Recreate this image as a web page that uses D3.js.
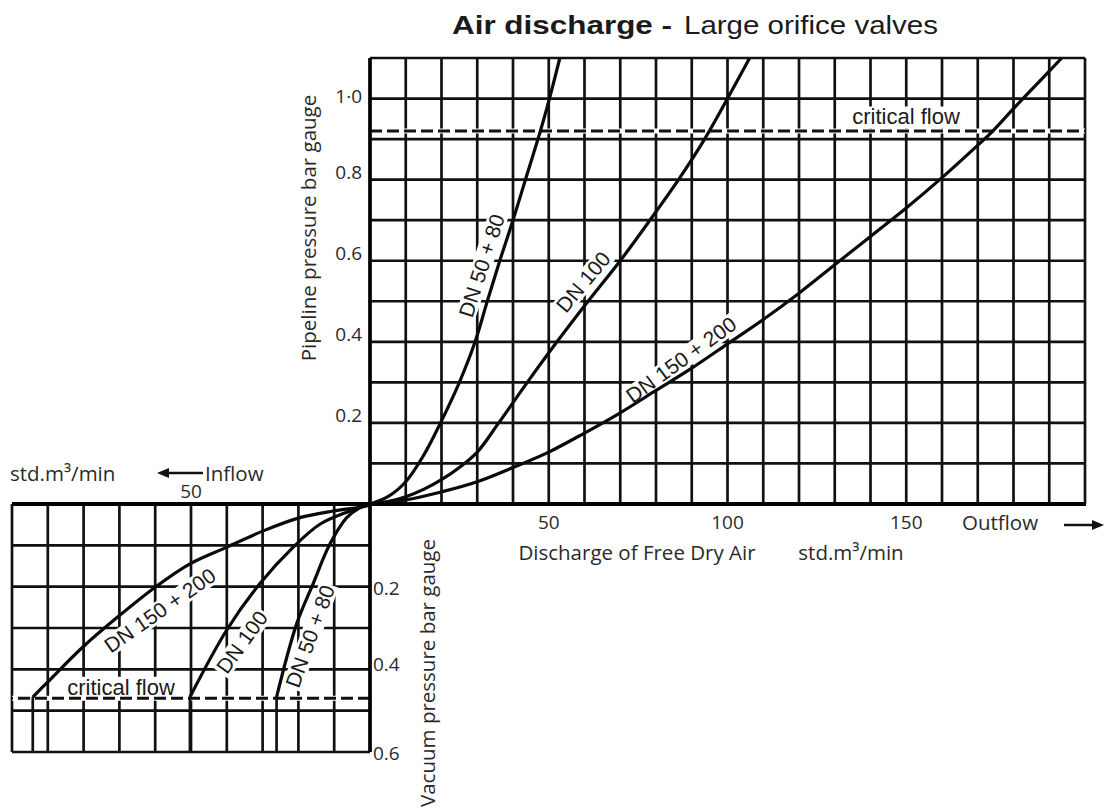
<!DOCTYPE html>
<html>
<head>
<meta charset="utf-8">
<script src="https://cdn.jsdelivr.net/npm/d3@7"></script>
<style>
  body { margin: 0; background: #fff; }
  svg { display: block; }
  .ax { font-family: "Open Sans", "DejaVu Sans", sans-serif; fill: #2a2a2a; }
  .lab { font-family: "Liberation Sans", Arial, sans-serif; fill: #1a1a1a; }
</style>
</head>
<body>
<div id="chart"></div>
<script>
// escalas de los ejes
const outflowTicks = [50, 100, 150];
const pressureTicks = [0.2, 0.4, 0.6, 0.8, 1.0];
const pressureTickText = ["0.2", "0.4", "0.6", "0.8", "1·0"];
const vacuumTicks = [0.2, 0.4, 0.6];
const criticalPressure = 0.92;
const criticalVacuum = 0.47;

// curvas de descarga (std.m3/min, bar)
const outDN50 = [[0,0],[5,0.018],[10,0.055],[15,0.12],[20,0.205],[25,0.3],[29.4,0.4],[32.8,0.5],[36.3,0.6],[40,0.7],[44,0.815],[47.6,0.918],[50.2,1.0],[53.1,1.1]];
const outDN100 = [[0,0],[5,0.006],[10,0.018],[15,0.036],[20,0.06],[25,0.09],[30,0.128],[36,0.2],[44,0.3],[52.3,0.4],[61,0.5],[70,0.6],[78.3,0.7],[86.3,0.8],[93.6,0.9],[100,1.0],[106.2,1.1]];
const outDN150 = [[0,0],[10,0.01],[20,0.03],[30,0.055],[40,0.09],[50,0.128],[60,0.175],[70,0.225],[80,0.28],[90,0.335],[100,0.395],[110,0.455],[120,0.52],[130,0.59],[140,0.66],[150,0.73],[160,0.805],[170,0.885],[174,0.918],[180,0.975],[187,1.04],[193.5,1.1]];

const inDN50 = [[0,0],[3,0.01],[6.5,0.033],[11.2,0.097],[15.9,0.193],[20.5,0.29],[26.1,0.467]];
const inDN100 = [[0,0],[5.6,0.017],[14,0.049],[21.5,0.105],[30.8,0.193],[40.1,0.306],[50.3,0.467]];
const inDN150 = [[0,0],[1,0.005],[10.3,0.017],[19.6,0.033],[29.8,0.065],[40.1,0.105],[50.3,0.145],[60.1,0.202],[70,0.27],[80.2,0.346],[90.4,0.434],[94.2,0.467]];

const outLabels = [
    { text: "DN 50 + 80", x: 31.2, y: 0.588, angle: -72 },
    { text: "DN 100", x: 59.6, y: 0.548, angle: -50 },
    { text: "DN 150 + 200", x: 87, y: 0.356, angle: -36 }
];
const inLabels = [
    { text: "DN 150 + 200", x: 58.7, y: 0.257, angle: -35 },
    { text: "DN 100", x: 35.8, y: 0.334, angle: -54 },
    { text: "DN 50 + 80", x: 16.8, y: 0.32, angle: -70 }
];

const width = 1105, height = 809;

const svg = d3.select("#chart").append("svg")
    .attr("width", width)
    .attr("height", height);

// cuadrante de salida (arriba derecha) y de entrada (abajo izquierda)
const xOut = d3.scaleLinear().domain([0, 200]).range([370, 1085]);
const yOut = d3.scaleLinear().domain([0, 1.1]).range([504, 58]);
const xIn = d3.scaleLinear().domain([0, 100]).range([370, 12]);
const yIn = d3.scaleLinear().domain([0, 0.6]).range([504, 752]);

const grid = svg.append("g").attr("stroke", "#111").attr("stroke-width", 2.7);

grid.selectAll(".vo").data(d3.range(0, 201, 10)).enter().append("line")
    .attr("x1", d => xOut(d)).attr("x2", d => xOut(d))
    .attr("y1", yOut(0)).attr("y2", yOut(1.1));
grid.selectAll(".ho").data(d3.range(0, 12).map(i => i / 10)).enter().append("line")
    .attr("x1", xOut(0)).attr("x2", xOut(200))
    .attr("y1", d => yOut(d)).attr("y2", d => yOut(d));

grid.selectAll(".vi").data(d3.range(0, 101, 10)).enter().append("line")
    .attr("x1", d => xIn(d)).attr("x2", d => xIn(d))
    .attr("y1", yIn(0)).attr("y2", yIn(0.6));
grid.selectAll(".hi").data(d3.range(0, 7).map(i => i / 10)).enter().append("line")
    .attr("x1", xIn(0)).attr("x2", xIn(100))
    .attr("y1", d => yIn(d)).attr("y2", d => yIn(d));

// etiqueta con fondo blanco (tapa la cuadricula)
function boxedLabel(sel, size) {
    sel.append("text")
        .attr("class", "lab")
        .attr("text-anchor", "middle")
        .attr("dominant-baseline", "central")
        .attr("font-size", size)
        .text(d => d.text);
    sel.each(function () {
        const g = d3.select(this);
        const bb = g.select("text").node().getBBox();
        g.insert("rect", "text")
            .attr("x", bb.x - 2).attr("y", bb.y + 2)
            .attr("width", bb.width + 4).attr("height", bb.height - 3)
            .attr("fill", "#fff");
    });
}

function curveLabels(data, xs, ys) {
    const g = svg.append("g").selectAll("g").data(data).enter().append("g")
        .attr("transform", d => `translate(${xs(d.x)},${ys(d.y)}) rotate(${d.angle})`);
    boxedLabel(g, 21);
}
curveLabels(outLabels, xOut, yOut);
curveLabels(inLabels, xIn, yIn);

// texto de flujo critico
const critTexts = [
    { text: "critical flow", x: 906, y: yOut(criticalPressure) - 14 },
    { text: "critical flow", x: 121, y: yIn(criticalVacuum) - 11 }
];
boxedLabel(svg.append("g").selectAll("g").data(critTexts).enter().append("g")
    .attr("transform", d => `translate(${d.x},${d.y})`), 22);

// lineas de flujo critico
function dashed(x1, x2, y) {
    svg.append("line").attr("x1", x1).attr("x2", x2).attr("y1", y).attr("y2", y)
        .attr("stroke", "#fff").attr("stroke-width", 5);
    svg.append("line").attr("x1", x1).attr("x2", x2).attr("y1", y).attr("y2", y)
        .attr("stroke", "#111").attr("stroke-width", 3).attr("stroke-dasharray", "12,5");
}
dashed(xOut(0), xOut(200), yOut(criticalPressure));
dashed(xIn(0), xIn(100), yIn(criticalVacuum));

// curvas
const lineOut = d3.line().x(d => xOut(d[0])).y(d => yOut(d[1])).curve(d3.curveCatmullRom.alpha(0.5));
const lineIn = d3.line().x(d => xIn(d[0])).y(d => yIn(d[1])).curve(d3.curveCatmullRom.alpha(0.5));

svg.append("g").selectAll("path").data([outDN50, outDN100, outDN150]).enter().append("path")
    .attr("d", lineOut).attr("fill", "none").attr("stroke", "#0a0a0a").attr("stroke-width", 3.2);
svg.append("g").selectAll("path").data([inDN50, inDN100, inDN150]).enter().append("path")
    .attr("d", lineIn).attr("fill", "none").attr("stroke", "#0a0a0a").attr("stroke-width", 3.2);

// verticales bajo el flujo critico (vacio)
svg.append("g").selectAll("line").data([inDN50, inDN100, inDN150]).enter().append("line")
    .attr("x1", d => xIn(d[d.length - 1][0])).attr("x2", d => xIn(d[d.length - 1][0]))
    .attr("y1", d => yIn(d[d.length - 1][1])).attr("y2", yIn(0.6))
    .attr("stroke", "#111").attr("stroke-width", 2.7);

// ejes gruesos
svg.append("line").attr("x1", xIn(100)).attr("x2", xOut(200) + 1)
    .attr("y1", 504).attr("y2", 504).attr("stroke", "#000").attr("stroke-width", 4);
svg.append("line").attr("x1", 370).attr("x2", 370)
    .attr("y1", yOut(1.1)).attr("y2", yIn(0.6)).attr("stroke", "#000").attr("stroke-width", 3.6);

// marcas de ejes
svg.append("g").selectAll("text").data(pressureTicks).enter().append("text")
    .attr("class", "ax")
    .attr("x", 362).attr("y", d => yOut(d) - (d === 1.0 ? 3 : 8))
    .attr("text-anchor", "end").attr("dominant-baseline", "central")
    .attr("font-size", 19)
    .text((d, i) => pressureTickText[i]);

svg.append("g").selectAll("text").data(outflowTicks).enter().append("text")
    .attr("class", "ax")
    .attr("x", d => xOut(d)).attr("y", 522)
    .attr("text-anchor", "middle").attr("dominant-baseline", "central")
    .attr("font-size", 19)
    .text(d => d);

svg.append("g").selectAll("text").data(vacuumTicks).enter().append("text")
    .attr("class", "ax")
    .attr("x", 373).attr("y", d => yIn(d) + (d === 0.4 ? -5 : 1))
    .attr("text-anchor", "start").attr("dominant-baseline", "central")
    .attr("font-size", 19)
    .text(d => d.toFixed(1));

svg.append("text").attr("class", "ax")
    .attr("x", xIn(50)).attr("y", 491)
    .attr("text-anchor", "middle").attr("dominant-baseline", "central")
    .attr("font-size", 19).text("50");

// titulos de ejes
svg.append("text").attr("class", "ax")
    .attr("transform", "translate(308,228) rotate(-90)")
    .attr("text-anchor", "middle").attr("dominant-baseline", "central")
    .attr("font-size", 20.5).text("Pipeline pressure bar gauge");
svg.append("text").attr("class", "ax")
    .attr("transform", "translate(427,673) rotate(-90)")
    .attr("text-anchor", "middle").attr("dominant-baseline", "central")
    .attr("font-size", 20.5).text("Vacuum pressure bar gauge");

svg.append("text").attr("class", "ax")
    .attr("x", 637).attr("y", 552)
    .attr("text-anchor", "middle").attr("dominant-baseline", "central")
    .attr("font-size", 20.5).text("Discharge of Free Dry Air");
svg.append("text").attr("class", "ax")
    .attr("x", 851).attr("y", 552)
    .attr("text-anchor", "middle").attr("dominant-baseline", "central")
    .attr("font-size", 20.5).text("std.m³/min");
svg.append("text").attr("class", "ax")
    .attr("x", 1000).attr("y", 522)
    .attr("text-anchor", "middle").attr("dominant-baseline", "central")
    .attr("font-size", 20.5).text("Outflow");

svg.append("text").attr("class", "ax")
    .attr("x", 10).attr("y", 473)
    .attr("text-anchor", "start").attr("dominant-baseline", "central")
    .attr("font-size", 20.5).text("std.m³/min");
svg.append("text").attr("class", "ax")
    .attr("x", 205).attr("y", 473)
    .attr("text-anchor", "start").attr("dominant-baseline", "central")
    .attr("font-size", 20.5).text("Inflow");

// flechas
function arrow(x1, x2, y) {
    const dir = Math.sign(x2 - x1);
    svg.append("line").attr("x1", x1).attr("x2", x2 - dir * 8).attr("y1", y).attr("y2", y)
        .attr("stroke", "#111").attr("stroke-width", 2.5);
    svg.append("path")
        .attr("d", `M${x2},${y} L${x2 - dir * 12},${y - 5} L${x2 - dir * 12},${y + 5} Z`)
        .attr("fill", "#111");
}
arrow(1064, 1104, 525);
arrow(203, 157, 473);

// titulo
svg.append("text").attr("class", "lab")
    .attr("x", 452).attr("y", 34)
    .attr("font-size", 26).attr("font-weight", "bold")
    .attr("textLength", 220).attr("lengthAdjust", "spacingAndGlyphs")
    .text("Air discharge -");
svg.append("text").attr("class", "lab")
    .attr("x", 684).attr("y", 34)
    .attr("font-size", 26)
    .attr("textLength", 254).attr("lengthAdjust", "spacingAndGlyphs")
    .text("Large orifice valves");
</script>
</body>
</html>
